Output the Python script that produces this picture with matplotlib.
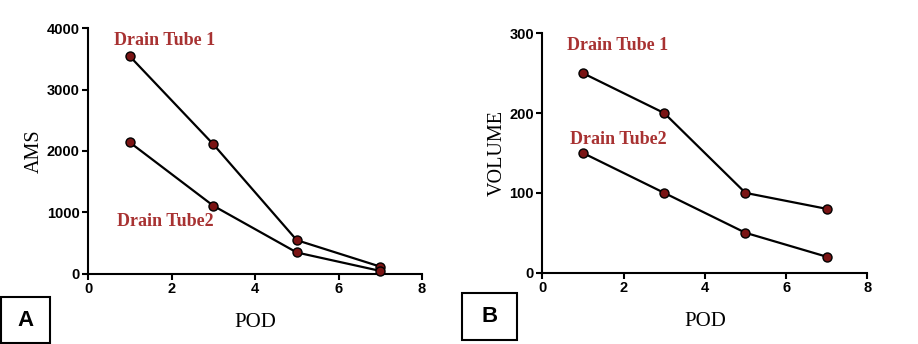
import matplotlib.pyplot as plt
from matplotlib.patches import Rectangle

pod = [1, 3, 5, 7]
ams_tube1 = [3540, 2110, 550, 120]
ams_tube2 = [2140, 1110, 350, 50]
vol_tube1 = [250, 200, 100, 80]
vol_tube2 = [150, 100, 50, 20]

red = '#a83232'
serif = 'Liberation Serif'
sans = 'Liberation Sans'

fig = plt.figure(figsize=(9.18, 3.44), dpi=100)
axA = fig.add_axes([0.0959, 0.2035, 0.3638, 0.7151])
axB = fig.add_axes([0.5908, 0.2073, 0.3540, 0.6959])


def style(ax, ylim, yticks, ylabel):
    for s in ['top', 'right']:
        ax.spines[s].set_visible(False)
    for s in ['left', 'bottom']:
        ax.spines[s].set_linewidth(1.5)
    ax.set_xlim(0, 8)
    ax.set_ylim(*ylim)
    ax.set_xticks([0, 2, 4, 6, 8])
    ax.set_yticks(yticks)
    ax.tick_params(direction='out', length=4, width=1.5, pad=2)
    for lab in ax.get_xticklabels() + ax.get_yticklabels():
        lab.set_fontfamily(sans)
        lab.set_fontweight('bold')
        lab.set_fontsize(10.5)
    ax.set_xlabel('POD', fontfamily=serif, fontsize=15, labelpad=12)
    ax.set_ylabel(ylabel, fontfamily=serif, fontsize=14.5, labelpad=2)


def series(ax, y):
    ax.plot(pod, y, color='black', lw=1.6, marker='o', ms=6.5,
            mfc='#7a1414', mec='black', mew=1.0, clip_on=False, zorder=3)


series(axA, ams_tube1)
series(axA, ams_tube2)
style(axA, (0, 4000), [0, 1000, 2000, 3000, 4000], 'AMS')
axA.text(1.84, 3800, 'Drain Tube 1', color=red, fontfamily=serif,
         fontweight='bold', fontsize=13, ha='center', va='center')
axA.text(1.86, 850, 'Drain Tube2', color=red, fontfamily=serif,
         fontweight='bold', fontsize=13, ha='center', va='center')

series(axB, vol_tube1)
series(axB, vol_tube2)
style(axB, (0, 300), [0, 100, 200, 300], 'VOLUME')
axB.text(1.85, 285, 'Drain Tube 1', color=red, fontfamily=serif,
         fontweight='bold', fontsize=13, ha='center', va='center')
axB.text(1.86, 167, 'Drain Tube2', color=red, fontfamily=serif,
         fontweight='bold', fontsize=13, ha='center', va='center')

# panel letters in boxes
for x0, y0, w, h, letter in [(1, 1, 49, 46, 'A'), (462, 4, 55, 47, 'B')]:
    fig.patches.append(Rectangle((x0 / 918, y0 / 344), w / 918, h / 344,
                                 transform=fig.transFigure, fill=False,
                                 ec='black', lw=1.5))
    fig.text((x0 + w / 2) / 918, (y0 + h / 2) / 344, letter,
             fontfamily=sans, fontweight='bold', fontsize=16,
             ha='center', va='center')

fig.savefig('out.png', dpi=100)
